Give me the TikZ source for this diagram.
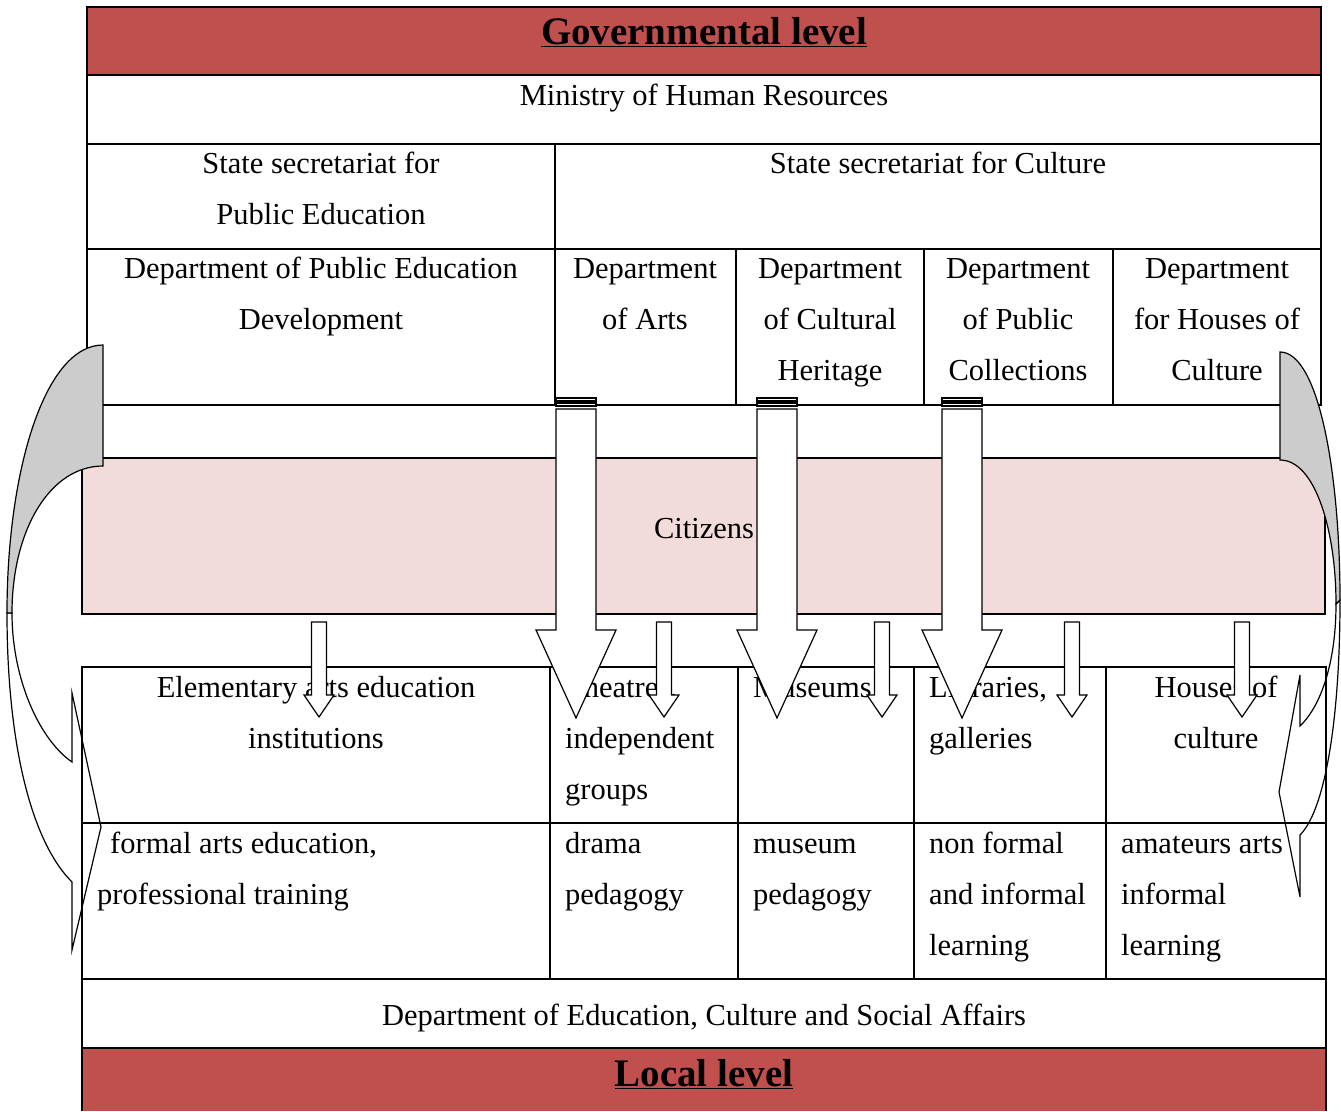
\documentclass[tikz,border=0pt]{standalone}
\usepackage{fontspec}
\setmainfont{Liberation Serif}
\usepackage{tikz}
\usetikzlibrary{calc}
\definecolor{govred}{HTML}{C0504D}
\definecolor{citpink}{HTML}{F2DBDB}
\definecolor{backgray}{HTML}{CCCCCC}
\newcommand{\lvl}[1]{\textbf{\underline{#1}}}
\newcommand{\thinarrow}[1]{\draw[block] ({#1-7.5},622) -- ({#1+7.5},622) -- ({#1+7.5},695) -- ({#1+15},695) -- (#1,717) -- ({#1-15},695) -- ({#1-7.5},695) -- cycle;}
\newcommand{\widearrow}[1]{%
  \draw[block] ({#1-20},398) rectangle ({#1+20},401);
  \draw[block] ({#1-20},403) rectangle ({#1+20},406);
  \draw[block] ({#1-20},409) -- ({#1+20},409) -- ({#1+20},630) -- ({#1+40},630) -- (#1,718) -- ({#1-40},630) -- ({#1-20},630) -- cycle;}

\begin{document}
\begin{tikzpicture}[x=1pt, y=-1pt,
    cell/.style={anchor=base, inner sep=0pt, align=center, font=\fontsize{30.5}{51}\selectfont},
    lcell/.style={cell, align=left, anchor=base west},
    level/.style={anchor=base, inner sep=0pt, font=\fontsize{39}{47}\selectfont},
    grid/.style={line width=1.8pt},
    block/.style={draw, fill=white, line width=1.2pt},
    twist/.style={draw, fill=backgray, line width=1.2pt}]
    \useasboundingbox (0,0) rectangle (1341,1111);
    % Bands
    \fill[govred] (87,7) rectangle (1321,75);
    \fill[govred] (82,1048) rectangle (1326,1111);
    \draw[grid, fill=citpink] (82,458) rectangle (1325,614);
    % Governmental level table
    \draw[grid] (87,7) rectangle (1321,405);
    \draw[grid] (87,75) -- (1321,75);
    \draw[grid] (87,144) -- (1321,144);
    \draw[grid] (87,249) -- (1321,249);
    \draw[grid] (555,144) -- (555,405);
    \draw[grid] (736,249) -- (736,405);
    \draw[grid] (924,249) -- (924,405);
    \draw[grid] (1113,249) -- (1113,405);
    % (node base = baseline of the last line)
    \node[level] (gov) at (704,44) {\lvl{Governmental level}};
    \node[cell] (ministry) at (704,105) {Ministry of Human Resources};
    \node[cell] (secedu) at (321,224) {State secretariat for\\Public Education};
    \node[cell] (secculture) at (938,173) {State secretariat for Culture};
    \node[cell] (deptedu) at (321,329) {Department of Public Education\\Development};
    \node[cell] (deptarts) at (645,329) {Department\\of Arts};
    \node[cell] (deptheritage) at (830,380) {Department\\of Cultural\\Heritage};
    \node[cell] (deptcollections) at (1018,380) {Department\\of Public\\Collections};
    \node[cell] (depthouses) at (1217,380) {Department\\for Houses of\\Culture};
    \node[cell] (citizens) at (704,538) {Citizens};
    % Local level texts
    \node[cell] (schools) at (316,748) {Elementary arts education\\institutions};
    \node[lcell] (theatres) at (565,799) {Theatres,\\independent\\groups};
    \node[lcell] (museums) at (753,697) {Museums};
    \node[lcell] (libraries) at (929,748) {Libraries,\\galleries};
    \node[cell] (houses) at (1216,748) {Houses of\\culture};
    \node[lcell] (formal) at (97,904) {\hspace*{13pt}formal arts education,\\professional training};
    \node[lcell] (drama) at (565,904) {drama\\pedagogy};
    \node[lcell] (musped) at (753,904) {museum\\pedagogy};
    \node[lcell] (nonformal) at (929,955) {non formal\\and informal\\learning};
    \node[lcell] (amateurs) at (1121,955) {amateurs arts\\informal\\learning};
    \node[cell] (localdept) at (704,1025) {Department of Education, Culture and Social Affairs};
    \node[level] (local) at (704,1086) {\lvl{Local level}};
    %
    % Curved arrows:
    \draw[block] (7,613) .. controls (7,740) and (30,840) .. (72,882) -- (72,950) -- (101,827) -- (72,693) -- (72,762) .. controls (40,740) and (12,680) .. (12,613) -- cycle;
    \draw[twist] (103,345) -- (103,466) .. controls (50,466) and (12,530) .. (12,613) -- (7,613) .. controls (7,470) and (45,345) .. (103,345) -- cycle;
    \draw[block] (1340,600) .. controls (1340,720) and (1325,810) .. (1300,835) -- (1300,897) -- (1279,792) -- (1300,675) -- (1300,726) .. controls (1322,705) and (1336,660) .. (1336,604) -- cycle;
    \draw[twist] (1280,352) -- (1280,460) .. controls (1315,460) and (1336,530) .. (1336,604) -- (1340,600) .. controls (1340,470) and (1318,352) .. (1280,352) -- cycle;
    %
    % Local level table
    \draw[grid] (82,1111) -- (82,667) -- (1326,667) -- (1326,1111);
    \draw[grid] (82,823) -- (1326,823);
    \draw[grid] (82,979) -- (1326,979);
    \draw[grid] (82,1048) -- (1326,1048);
    \draw[grid] (550,667) -- (550,979);
    \draw[grid] (738,667) -- (738,979);
    \draw[grid] (914,667) -- (914,979);
    \draw[grid] (1106,667) -- (1106,979);
    %
    % Down arrows:
    \widearrow{576}
    \widearrow{777}
    \widearrow{962}
    \thinarrow{319}
    \thinarrow{664}
    \thinarrow{882}
    \thinarrow{1072}
    \thinarrow{1242}
\end{tikzpicture}
\end{document}
